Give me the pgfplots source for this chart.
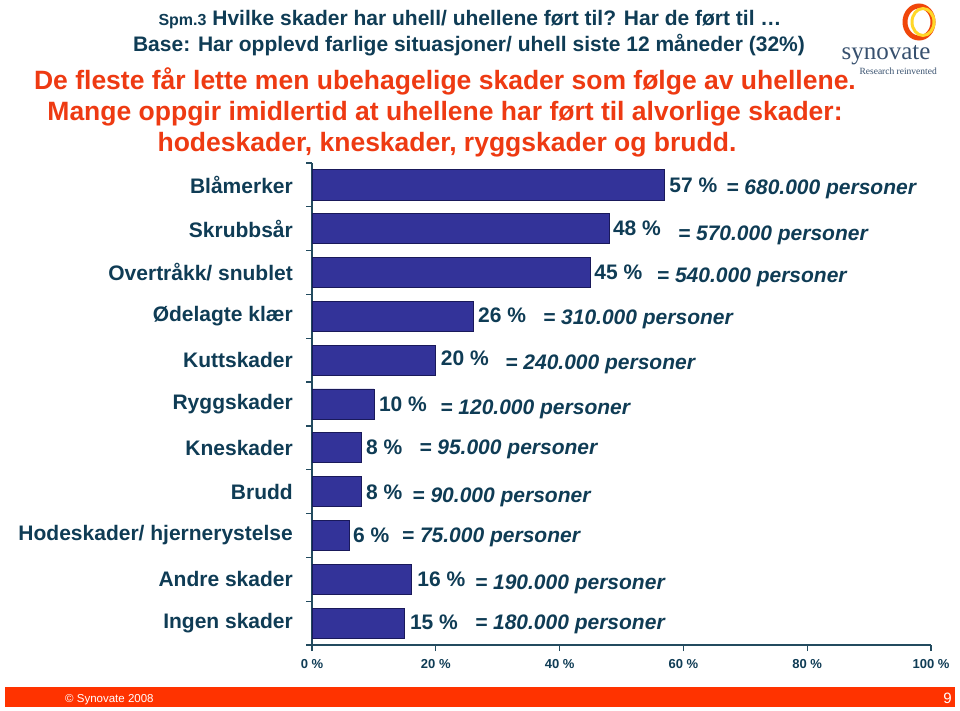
\documentclass[border=0pt]{standalone}
\usepackage{fontspec}
\setmainfont{Liberation Sans}
\newfontfamily\seriffont{Liberation Serif}
\usepackage{pgfplots}
\pgfplotsset{compat=1.18}
\definecolor{tealtxt}{RGB}{15,60,85}
\definecolor{redtxt}{RGB}{238,58,18}
\definecolor{barblue}{RGB}{51,51,153}
\definecolor{barline}{RGB}{25,25,90}
\definecolor{footer}{RGB}{255,51,0}
\definecolor{axiscol}{RGB}{35,75,95}
\definecolor{logoblue}{RGB}{55,80,110}
\definecolor{ringred}{RGB}{240,70,10}
\definecolor{ringyellow}{RGB}{255,215,40}
\tikzset{
  lab/.style={anchor=base west, inner sep=0pt, yshift=-7.5pt, text=tealtxt, font=\bfseries\fontsize{21}{25}\selectfont},
  per/.style={anchor=base west, inner sep=0pt, yshift=-7.5pt, text=tealtxt, font=\bfseries\itshape\fontsize{21}{25}\selectfont},
}
\begin{document}
\begin{tikzpicture}[x=1pt,y=1pt]
\fill[white] (0,0) rectangle (960,710);
\useasboundingbox (0,0) rectangle (960,710);
% titles
\node[anchor=base, inner sep=0pt, text=tealtxt, font=\bfseries\fontsize{21}{25}\selectfont] at (470,684) {{\fontsize{16}{19}\selectfont Spm.3} Hvilke skader har uhell/ uhellene ført til? Har de ført til …};
\node[anchor=base, inner sep=0pt, text=tealtxt, font=\bfseries\fontsize{21}{25}\selectfont] at (469,658) {Base: Har opplevd farlige situasjoner/ uhell siste 12 måneder (32\%)};
\node[anchor=base, inner sep=0pt, text=redtxt, font=\bfseries\fontsize{26.5}{30}\selectfont] at (445,620) {De fleste får lette men ubehagelige skader som følge av uhellene.};
\node[anchor=base, inner sep=0pt, text=redtxt, font=\bfseries\fontsize{26.5}{30}\selectfont] at (445,589) {Mange oppgir imidlertid at uhellene har ført til alvorlige skader:};
\node[anchor=base, inner sep=0pt, text=redtxt, font=\bfseries\fontsize{26.5}{30}\selectfont] at (447,558) {hodeskader, kneskader, ryggskader og brudd.};
% logo
\draw[line width=5pt, ringred] (919,688) ellipse (14pt and 16pt);
\draw[line width=3pt, ringyellow] (923,688) ellipse (11pt and 13.5pt);
\node[anchor=base, inner sep=0pt, text=logoblue, font=\seriffont\fontsize{25}{28}\selectfont] at (886,650) {synovate};
\node[anchor=base east, inner sep=0pt, text=logoblue, font=\seriffont\fontsize{9.5}{11}\selectfont] at (937,635) {Research reinvented};
% footer
\fill[footer] (5,3) rectangle (955,23);
\node[anchor=base west, inner sep=0pt, text=white, font=\fontsize{11.5}{13}\selectfont] at (65,8) {© Synovate 2008};
\node[anchor=base east, inner sep=0pt, text=white, font=\fontsize{15}{17}\selectfont] at (952,7) {9};
\begin{axis}[
  at={(312pt,65pt)}, anchor=south west,
  width=619pt, height=482pt, scale only axis,
  xmin=0, xmax=100, ymin=-0.5, ymax=10.5,
  xbar, bar width=0.685,
  axis lines*=left,
  axis line style={-, draw=axiscol, line width=1.2pt},
  tick style={draw=axiscol, line width=1.2pt},
  tick align=outside,
  major tick length=6pt,
  xtick={0,20,40,60,80,100},
  xticklabels={0 \%,20 \%,40 \%,60 \%,80 \%,100 \%},
  xticklabel style={font=\bfseries\fontsize{13}{15}\selectfont, text=tealtxt, inner sep=0pt, yshift=-8pt},
  ytick={-0.5,0.5,1.5,2.5,3.5,4.5,5.5,6.5,7.5,8.5,9.5,10.5},
  yticklabels={},
  extra y ticks={0,1,2,3,4,5,6,7,8,9,10},
  extra y tick labels={Ingen skader,Andre skader,Hodeskader/ hjernerystelse,Brudd,Kneskader,Ryggskader,Kuttskader,Ødelagte klær,Overtråkk/ snublet,Skrubbsår,Blåmerker},
  extra y tick style={tick style={draw=none}, yticklabel style={font=\bfseries\fontsize{21}{25}\selectfont, text=tealtxt, inner sep=0pt, anchor=east, xshift=-13pt}},
  clip=false,
]
\addplot[fill=barblue, draw=barline, line width=0.8pt] coordinates {
 (57,10) (48,9) (45,8) (26,7) (20,6) (10,5) (8,4) (8,3) (6,2) (16,1) (15,0)};
\node[lab] at (axis cs:57.7,10.0) {57 \%};
\node[per] at (axis cs:66.9,9.95) {= 680.000 personer};
\node[lab] at (axis cs:48.6,9.02) {48 \%};
\node[per] at (axis cs:59.1,8.90) {= 570.000 personer};
\node[lab] at (axis cs:45.6,8.01) {45 \%};
\node[per] at (axis cs:55.7,7.94) {= 540.000 personer};
\node[lab] at (axis cs:26.8,7.03) {26 \%};
\node[per] at (axis cs:37.3,6.99) {= 310.000 personer};
\node[lab] at (axis cs:20.8,6.05) {20 \%};
\node[per] at (axis cs:31.2,5.96) {= 240.000 personer};
\node[lab] at (axis cs:10.8,5.00) {10 \%};
\node[per] at (axis cs:20.7,4.93) {= 120.000 personer};
\node[lab] at (axis cs:8.72,4.02) {8 \%};
\node[per] at (axis cs:17.3,4.02) {= 95.000 personer};
\node[lab] at (axis cs:8.72,2.99) {8 \%};
\node[per] at (axis cs:16.2,2.92) {= 90.000 personer};
\node[lab] at (axis cs:6.62,2.01) {6 \%};
\node[per] at (axis cs:14.5,2.01) {= 75.000 personer};
\node[lab] at (axis cs:17.0,1.01) {16 \%};
\node[per] at (axis cs:26.3,0.94) {= 190.000 personer};
\node[lab] at (axis cs:15.8,0.03) {15 \%};
\node[per] at (axis cs:26.3,0.03) {= 180.000 personer};
\end{axis}
\end{tikzpicture}
\end{document}
